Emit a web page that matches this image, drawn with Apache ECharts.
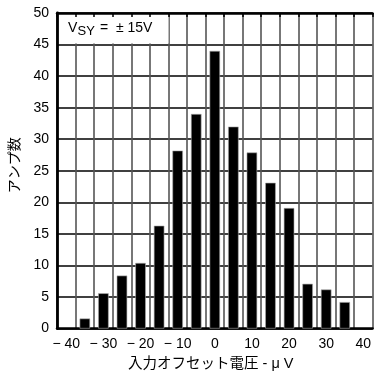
<!DOCTYPE html>
<html>
<head>
<meta charset="utf-8">
<script src="https://cdn.jsdelivr.net/npm/echarts@6/dist/echarts.min.js"></script>
<style>html,body{margin:0;padding:0;background:#fff}#c{width:374px;height:376px}</style>
</head>
<body>
<div id="c"></div>
<script>
// Data
const categories = ['-40','-35','-30','-25','-20','-15','-10','-5','0','5','10','15','20','25','30','35','40'];
const counts = [null, 1.6, 5.6, 8.4, 10.4, 16.3, 28.2, 34, 44, 32, 27.9, 23.1, 19.1, 7.1, 6.2, 4.2, null];
const yTicks = {min: 0, max: 50, step: 5};
const xAxisTitle = '入力オフセット電圧 - μ V';
const yAxisTitle = 'アンプ数';

const FONT = "'Liberation Sans', 'Noto Sans CJK JP', sans-serif";
const chart = echarts.init(document.getElementById('c'), null, {renderer: 'canvas'});
chart.setOption({
  animation: false,
  backgroundColor: '#fff',
  textStyle: {fontFamily: FONT},
  grid: {left: 57, top: 13, width: 319, height: 317, containLabel: false},
  xAxis: [{
    type: 'category',
    data: categories,
    boundaryGap: true,
    axisLine: {show: true, lineStyle: {color: '#000', width: 2.5}},
    axisTick: {show: false},
    axisLabel: {
      interval: 1, margin: 9, color: '#000', fontSize: 14, fontFamily: FONT,
      formatter: v => Number(v) < 0 ? '\u2212 ' + Math.abs(Number(v)) : v
    },
    splitLine: {show: true, interval: 0, lineStyle: {color: '#555', width: 1.6}},
    name: xAxisTitle, nameLocation: 'middle', nameGap: 25,
    nameTextStyle: {color: '#000', fontSize: 14.5, fontFamily: FONT, padding: [0, 8, 0, 0]}
  }, {
    type: 'category',
    data: categories,
    position: 'top',
    z: 10,
    axisLine: {show: true, lineStyle: {color: '#000', width: 2.5}},
    axisTick: {show: true, inside: true, interval: 0, length: 4, lineStyle: {color: '#000', width: 1.5}},
    axisLabel: {show: false},
    splitLine: {show: false}
  }],
  yAxis: {
    type: 'value',
    min: yTicks.min, max: yTicks.max, interval: yTicks.step,
    axisLine: {show: true, lineStyle: {color: '#000', width: 2.8}},
    axisTick: {show: false},
    axisLabel: {margin: 8, color: '#000', fontSize: 14, fontFamily: FONT},
    splitLine: {show: true, lineStyle: {color: '#000', width: 1.5}},
    name: yAxisTitle, nameLocation: 'middle', nameGap: 35, nameRotate: 90,
    nameTextStyle: {color: '#000', fontSize: 14, fontFamily: FONT, padding: [0, 0, 0, 11]}
  },
  graphic: [
    {type: 'rect', z: 5, shape: {x: 59, y: 14.5, width: 109.5, height: 29}, style: {fill: '#fff'}},
    {type: 'text', z: 11, left: 68, top: 21, style: {text: 'V', font: '14px ' + FONT, fill: '#000'}},
    {type: 'text', z: 11, left: 77.5, top: 25, style: {text: 'SY', font: '13px ' + FONT, fill: '#000'}},
    {type: 'text', z: 11, left: 100, top: 21, style: {text: '=  \u00b1 15V', font: '14px ' + FONT, fill: '#000'}}
  ],
  series: [{
    type: 'bar',
    xAxisIndex: 0,
    data: counts,
    barWidth: 10.5,
    itemStyle: {color: '#000', borderColor: '#aaa', borderWidth: 0.6},
    z: 3
  }]
});
</script>
</body>
</html>
